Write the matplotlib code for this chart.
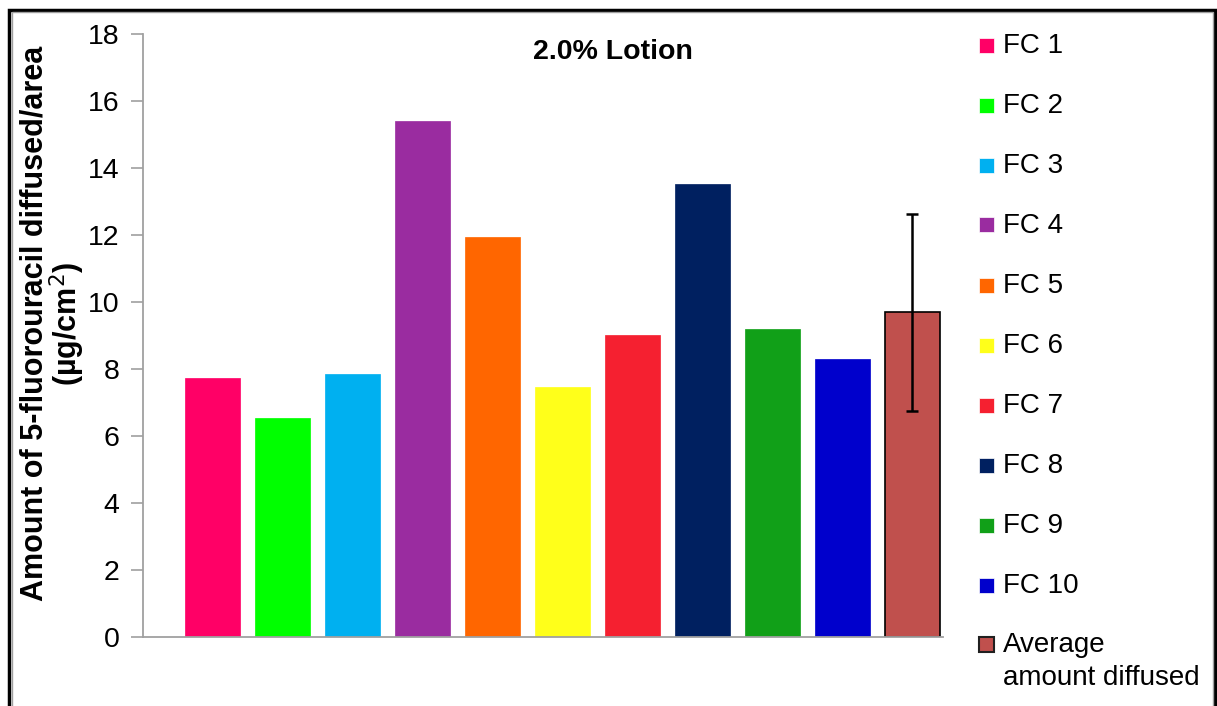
import matplotlib.pyplot as plt
from matplotlib.patches import Rectangle

# data
labels = ["FC 1", "FC 2", "FC 3", "FC 4", "FC 5", "FC 6", "FC 7", "FC 8", "FC 9", "FC 10",
          "Average\namount diffused"]
values = [7.72, 6.54, 7.84, 15.41, 11.93, 7.45, 9.02, 13.53, 9.20, 8.29, 9.69]
errors = [0, 0, 0, 0, 0, 0, 0, 0, 0, 0, 2.93]
colors = ["#FF0066", "#00FF00", "#00B0F0", "#9A2CA0", "#FF6600", "#FFFF1A",
          "#F52030", "#002060", "#11A018", "#0000CC", "#C0504D"]

plt.rcParams['font.family'] = ['Liberation Sans', 'DejaVu Sans']

W, H = 1217, 706
fig = plt.figure(figsize=(W / 100, H / 100), dpi=100)
ax = fig.add_axes([143 / W, (H - 637) / H, 800 / W, 603 / H])

x = list(range(len(values)))
for i in x:
    ec = "black" if i == len(values) - 1 else colors[i]
    lw = 1.2 if i == len(values) - 1 else 0.5
    ax.bar(i, values[i], width=0.786, color=colors[i], edgecolor=ec, linewidth=lw, zorder=2)
ax.errorbar(x[-1], values[-1], yerr=errors[-1], fmt="none", ecolor="black",
            elinewidth=1.8, capsize=4, capthick=1.8, zorder=3)

ax.set_xlim(-0.993, 10.436)
ax.set_ylim(0, 18)
ax.set_yticks(range(0, 19, 2))
ax.set_xticks([])
ax.tick_params(axis="y", labelsize=20.5, length=9, width=1.2, color="#A0A0A0", pad=8)
for s in ["top", "right"]:
    ax.spines[s].set_visible(False)
for s in ["left", "bottom"]:
    ax.spines[s].set_color("#A0A0A0")
    ax.spines[s].set_linewidth(1.3)

ax.set_ylabel("Amount of 5-fluorouracil diffused/area\n(µg/cm$^2$)",
              fontsize=22, fontweight="bold", linespacing=0.93)
ax.yaxis.set_label_coords(-0.07, 0.52)

ax.set_title("2.0% Lotion", fontsize=20.5, fontweight="bold", y=0.945, x=0.587)

# legend drawn to the right, one row every 60 px
for i, lab in enumerate(labels):
    yc = H - (45 + 60 * i)
    if i == len(labels) - 1:
        yc = H - 644
    fig.add_artist(Rectangle((979 / W, (yc - 7.5) / H), 15 / W, 15 / H,
                             facecolor=colors[i],
                             edgecolor="#202020" if i == len(labels) - 1 else "white",
                             linewidth=1.5 if i == len(labels) - 1 else 0.5,
                             transform=fig.transFigure))
    fig.text(1003 / W, (yc + 12) / H, lab, fontsize=20, va="top", ha="left",
             linespacing=1.33)

# outer frame
fig.add_artist(Rectangle((9 / W, -0.1), 1206 / W, 1.1 - 9.5 / H, fill=False,
                         edgecolor="black", linewidth=2.5, transform=fig.transFigure))
fig.add_artist(Rectangle((11.5 / W, -0.1), 1201 / W, 1.1 - 12.5 / H, fill=False,
                         edgecolor="#A0A0A0", linewidth=1, transform=fig.transFigure))

fig.savefig("out.png", dpi=100)
